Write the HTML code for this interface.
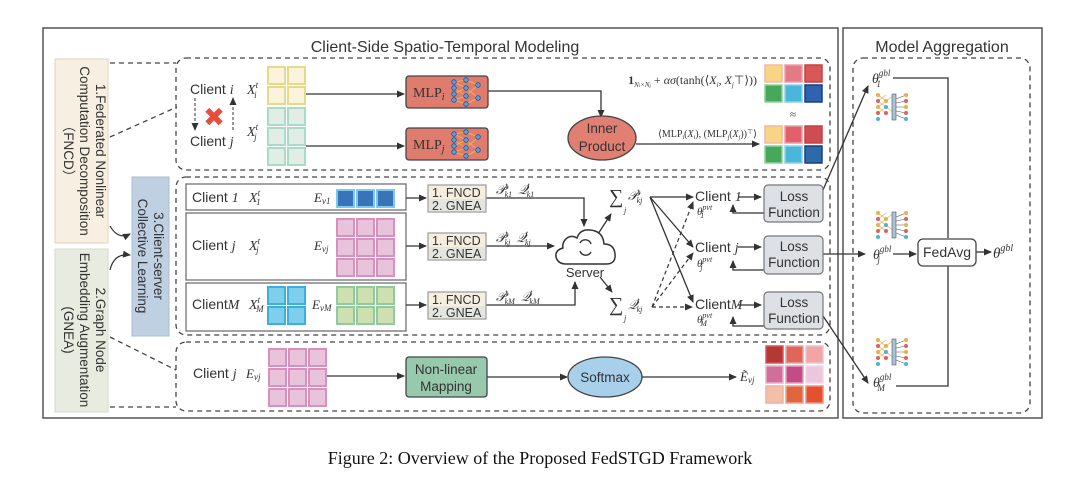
<!DOCTYPE html>
<html><head><meta charset="utf-8"><style>
html,body{margin:0;padding:0;background:#fff;}
svg{display:block;}
.s{font-family:"Liberation Sans",sans-serif;fill:#333;}
.m{font-family:"Liberation Serif",serif;font-style:italic;fill:#333;}
.r{font-family:"Liberation Serif",serif;fill:#333;}
</style></head><body>
<svg width="1080" height="490" viewBox="0 0 1080 490" xmlns="http://www.w3.org/2000/svg">
<defs>
<marker id="a" markerWidth="8" markerHeight="8" refX="7" refY="4" orient="auto" markerUnits="userSpaceOnUse"><path d="M0,0.5 L8,4 L0,7.5 z" fill="#333"/></marker>
<g id="nn">
<g stroke="#e8a94a" stroke-width="0.6"><path d="M2,2 L10,8 M2,8 L10,2 M2,14 L10,8 M2,20 L10,14 M2,14 L10,20 M2,8 L10,14 M10,8 L18,2 M10,14 L18,20"/></g>
<circle cx="2" cy="2" r="2" fill="#e8b04a"/><circle cx="2" cy="8" r="2" fill="#e06060"/><circle cx="2" cy="14" r="2" fill="#e8b04a"/><circle cx="2" cy="20" r="2" fill="#e06060"/><circle cx="2" cy="26" r="2" fill="#4bb6c9"/>
<circle cx="10" cy="8" r="2" fill="#e8b04a"/><circle cx="10" cy="14" r="2" fill="#4bb6c9"/><circle cx="10" cy="20" r="2" fill="#e06060"/>
<rect x="16" y="1" width="4" height="26" fill="#a9c2d6" stroke="#556" stroke-width="0.6"/>
<path d="M20,6 L30,2 M20,10 L30,8 M20,14 L30,14 M20,18 L30,20 M20,22 L30,26" stroke="#555" stroke-width="0.6"/>
<circle cx="30" cy="2" r="2" fill="#e8b04a"/><circle cx="30" cy="8" r="2" fill="#e06060"/><circle cx="30" cy="14" r="2" fill="#e8b04a"/><circle cx="30" cy="20" r="2" fill="#e06060"/><circle cx="30" cy="26" r="2" fill="#4bb6c9"/>
</g>
<g id="mlpnn">
<g stroke="#f0c040" stroke-width="0.7"><path d="M0,2 L12,0 M0,2 L12,8 M0,8 L12,16 M0,14 L12,8 M0,20 L12,24 M0,20 L12,16 M12,0 L24,5 M12,8 L24,18 M12,16 L24,5 M12,24 L24,18"/></g>
<g fill="#5aa0e0" stroke="#1e4f8a" stroke-width="0.8">
<circle cx="0" cy="2" r="2.3"/><circle cx="0" cy="8" r="2.3"/><circle cx="0" cy="14" r="2.3"/><circle cx="0" cy="20" r="2.3"/>
<circle cx="12" cy="0" r="2.3"/><circle cx="12" cy="8" r="2.3"/><circle cx="12" cy="16" r="2.3"/><circle cx="12" cy="24" r="2.3"/>
<circle cx="24" cy="5" r="2.3"/><circle cx="24" cy="18" r="2.3"/></g>
</g>
</defs>

<rect x="43" y="28" width="795" height="390" fill="none" stroke="#555" stroke-width="1.5"/>
<rect x="843" y="28" width="199" height="390" fill="none" stroke="#555" stroke-width="1.5"/>
<text x="445" y="52" class="s" font-size="16" text-anchor="middle">Client-Side Spatio-Temporal Modeling</text>
<text x="942" y="52" class="s" font-size="16" text-anchor="middle">Model Aggregation</text>

<g fill="none" stroke="#444" stroke-width="1.3" stroke-dasharray="5,4">
<rect x="176" y="58" width="654" height="112" rx="10"/>
<rect x="176" y="177" width="654" height="158" rx="10"/>
<rect x="176" y="342" width="654" height="69" rx="10"/>
<rect x="853" y="58" width="177" height="355" rx="10"/>
<path d="M110,63 L176,63 M110,137 L177,107 M110,337 L176,370 M110,407 L176,407"/>
</g>

<rect x="55" y="59" width="53" height="184" fill="#f7efe2" stroke="#e3d3bb"/>
<text transform="translate(66,151) rotate(90)" class="s" font-size="13.5" text-anchor="middle"><tspan x="0" y="-30">1.Federated Nonlinear</tspan><tspan x="0" y="-14">Computation Decomposition</tspan><tspan x="0" y="2">（FNCD）</tspan></text>
<rect x="55" y="249" width="53" height="163" fill="#e8ebe0" stroke="#d7dacd"/>
<text transform="translate(66,330) rotate(90)" class="s" font-size="13.5" text-anchor="middle"><tspan x="0" y="-30">2.Graph Node</tspan><tspan x="0" y="-14">Embedding Augmentation</tspan><tspan x="0" y="2">(GNEA)</tspan></text>
<rect x="132" y="177" width="37" height="159" fill="#bfd0e3" stroke="#a9bccf"/>
<text transform="translate(150,256) rotate(90)" class="s" font-size="13.5" text-anchor="middle"><tspan x="0" y="-4">3.Client-server</tspan><tspan x="0" y="12">Collective Learning</tspan></text>
<path d="M110,226 Q118,240 130,234" fill="none" stroke="#333" stroke-width="1.2" marker-end="url(#a)"/>
<path d="M110,270 Q114,253 130,255" fill="none" stroke="#333" stroke-width="1.2" marker-end="url(#a)"/>

<text x="190" y="94" class="s" font-size="14">Client <tspan class="m">i</tspan></text>
<text x="190" y="146" class="s" font-size="14">Client <tspan class="m">j</tspan></text>
<path d="M233,130 L233,98" stroke="#333" stroke-width="1" stroke-dasharray="3,2" fill="none" marker-end="url(#a)"/>
<path d="M195,98 L195,130" stroke="#333" stroke-width="1" stroke-dasharray="3,2" marker-end="url(#a)"/>
<text x="214" y="126" font-size="26" fill="#e84c3d" font-family="DejaVu Sans,sans-serif" font-weight="bold" text-anchor="middle">✖</text>
<text x="247" y="94" class="m" font-size="14">X<tspan font-size="9" dy="-6">t</tspan><tspan font-size="9" dx="-4" dy="10">i</tspan></text>
<text x="247" y="136" class="m" font-size="14">X<tspan font-size="9" dy="-6">t</tspan><tspan font-size="9" dx="-4" dy="10">j</tspan></text>
<g fill="#fbf3dc" stroke="#e5d98a" stroke-width="2">
<rect x="268" y="67" width="17" height="17"/><rect x="288" y="67" width="17" height="17"/>
<rect x="268" y="87" width="17" height="17"/><rect x="288" y="87" width="17" height="17"/>
<rect x="268" y="190" width="17" height="17"/><rect x="288" y="190" width="17" height="17"/>
</g>
<g fill="#e2eee5" stroke="#a8dcc9" stroke-width="2">
<rect x="268" y="108" width="17" height="17"/><rect x="288" y="108" width="17" height="17"/>
<rect x="268" y="128" width="17" height="17"/><rect x="288" y="128" width="17" height="17"/>
<rect x="268" y="148" width="17" height="17"/><rect x="288" y="148" width="17" height="17"/>
<rect x="268" y="219" width="17" height="17"/><rect x="288" y="219" width="17" height="17"/>
<rect x="268" y="239" width="17" height="17"/><rect x="288" y="239" width="17" height="17"/>
<rect x="268" y="259" width="17" height="17"/><rect x="288" y="259" width="17" height="17"/>
</g>
<g stroke="#333" stroke-width="1.3" fill="none" marker-end="url(#a)">
<path d="M306,94 L404,94"/><path d="M306,146 L404,146"/>
<path d="M488,91 L601,91 L601,117"/><path d="M636,144 L759,144"/>
</g>
<rect x="406" y="76" width="82" height="32" rx="3" fill="#e07c6e" stroke="#444" stroke-width="1.3"/>
<rect x="406" y="128" width="82" height="32" rx="3" fill="#e07c6e" stroke="#444" stroke-width="1.3"/>
<text x="413" y="97" class="r" font-size="14">MLP<tspan class="m" font-size="10" dy="3">i</tspan></text>
<text x="413" y="149" class="r" font-size="14">MLP<tspan class="m" font-size="10" dy="3">j</tspan></text>
<use href="#mlpnn" x="454" y="80"/><use href="#mlpnn" x="454" y="132"/>
<ellipse cx="602" cy="138" rx="34" ry="22" fill="#e07f72" stroke="#444" stroke-width="1.3"/>
<text x="602" y="133" class="s" font-size="13.5" text-anchor="middle">Inner</text>
<text x="602" y="151" class="s" font-size="13.5" text-anchor="middle">Product</text>
<text x="757" y="84" class="r" font-size="12" text-anchor="end"><tspan font-weight="bold">1</tspan><tspan font-size="7" class="m" dy="3">N<tspan font-size="5">i</tspan>×N<tspan font-size="5">j</tspan></tspan><tspan dy="-3"> + </tspan><tspan class="m">ασ</tspan>(tanh(⟨<tspan class="m">X<tspan font-size="7" dy="3">i</tspan></tspan><tspan dy="-3">, </tspan><tspan class="m">X<tspan font-size="7" dy="3">j</tspan></tspan><tspan dy="-3">⊤⟩))</tspan></text>
<text x="757" y="137" class="r" font-size="10" text-anchor="end">⟨MLP<tspan font-size="6" dy="2">i</tspan><tspan dy="-2">(</tspan><tspan class="m">X<tspan font-size="6" dy="2">i</tspan></tspan><tspan dy="-2">), (MLP</tspan><tspan font-size="6" dy="2">j</tspan><tspan dy="-2">(</tspan><tspan class="m">X<tspan font-size="6" dy="2">j</tspan></tspan><tspan dy="-2">))</tspan><tspan font-size="7" dy="-3">⊤</tspan><tspan dy="3">⟩</tspan></text>
<g stroke-width="1.5">
<rect x="765" y="65" width="17" height="17" fill="#f8d584" stroke="#f2b8a0"/><rect x="785" y="65" width="17" height="17" fill="#e37a87" stroke="#e8a0a8"/><rect x="805" y="65" width="17" height="17" fill="#d8585a" stroke="#c84040"/>
<rect x="765" y="85" width="17" height="17" fill="#47a85a" stroke="#8fd0a0"/><rect x="785" y="85" width="17" height="17" fill="#4bb6d9" stroke="#90d0e8"/><rect x="805" y="85" width="17" height="17" fill="#2f63b0" stroke="#1a3f80"/>
<rect x="765" y="126" width="17" height="17" fill="#f8d584" stroke="#f2b8a0"/><rect x="785" y="126" width="17" height="17" fill="#e35f6a" stroke="#e8a0a8"/><rect x="805" y="126" width="17" height="17" fill="#d04c55" stroke="#c84040"/>
<rect x="765" y="146" width="17" height="17" fill="#47a85a" stroke="#8fd0a0"/><rect x="785" y="146" width="17" height="17" fill="#4bb6d9" stroke="#90d0e8"/><rect x="805" y="146" width="17" height="17" fill="#2d6aa8" stroke="#1a3f80"/>
</g>
<text x="793" y="118" class="r" font-size="11" text-anchor="middle">≈</text>

<g fill="#fff" stroke="#666" stroke-width="1.2">
<rect x="186" y="184" width="220" height="26"/>
<rect x="186" y="213" width="220" height="67"/>
<rect x="186" y="283" width="220" height="48"/>
</g>
<text x="192" y="202" class="s" font-size="14">Client <tspan class="m">1</tspan></text>
<text x="192" y="250" class="s" font-size="14">Client <tspan class="m">j</tspan></text>
<text x="192" y="309" class="s" font-size="14">Client<tspan class="m">M</tspan></text>
<text x="249" y="202" class="m" font-size="14">X<tspan font-size="9" dy="-6">t</tspan><tspan font-size="9" dx="-4" dy="9">1</tspan></text>
<text x="249" y="250" class="m" font-size="14">X<tspan font-size="9" dy="-6">t</tspan><tspan font-size="9" dx="-4" dy="9">j</tspan></text>
<text x="249" y="309" class="m" font-size="14">X<tspan font-size="9" dy="-6">t</tspan><tspan font-size="9" dx="-4" dy="9">M</tspan></text>
<text x="314" y="202" class="m" font-size="13">E<tspan font-size="9" dy="2">v1</tspan></text>
<text x="314" y="250" class="m" font-size="13">E<tspan font-size="9" dy="2">vj</tspan></text>
<text x="312" y="309" class="m" font-size="13">E<tspan font-size="9" dy="2">vM</tspan></text>
<g fill="#3a74b8" stroke="#7ec8ee" stroke-width="2">
<rect x="337" y="190" width="17" height="17"/><rect x="357" y="190" width="17" height="17"/><rect x="377" y="190" width="17" height="17"/>
</g>
<g fill="#e8c4dc" stroke="#db8fbd" stroke-width="2">
<rect x="337" y="219" width="17" height="17"/><rect x="357" y="219" width="17" height="17"/><rect x="377" y="219" width="17" height="17"/>
<rect x="337" y="239" width="17" height="17"/><rect x="357" y="239" width="17" height="17"/><rect x="377" y="239" width="17" height="17"/>
<rect x="337" y="259" width="17" height="17"/><rect x="357" y="259" width="17" height="17"/><rect x="377" y="259" width="17" height="17"/>
<rect x="269" y="349" width="17" height="17"/><rect x="289" y="349" width="17" height="17"/><rect x="309" y="349" width="17" height="17"/>
<rect x="269" y="369" width="17" height="17"/><rect x="289" y="369" width="17" height="17"/><rect x="309" y="369" width="17" height="17"/>
<rect x="269" y="389" width="17" height="17"/><rect x="289" y="389" width="17" height="17"/><rect x="309" y="389" width="17" height="17"/>
</g>
<g fill="#7fcfea" stroke="#3ab0e0" stroke-width="2">
<rect x="268" y="287" width="17" height="17"/><rect x="288" y="287" width="17" height="17"/>
<rect x="268" y="307" width="17" height="17"/><rect x="288" y="307" width="17" height="17"/>
</g>
<g fill="#cfe0b0" stroke="#8fcaa0" stroke-width="2">
<rect x="337" y="287" width="17" height="17"/><rect x="357" y="287" width="17" height="17"/><rect x="377" y="287" width="17" height="17"/>
<rect x="337" y="307" width="17" height="17"/><rect x="357" y="307" width="17" height="17"/><rect x="377" y="307" width="17" height="17"/>
</g>
<g stroke="#333" stroke-width="1.3" fill="none" marker-end="url(#a)">
<path d="M406,198 L426,198"/><path d="M406,246 L426,246"/><path d="M406,305 L426,305"/>
<path d="M486,198 L584,198 L584,226"/><path d="M486,246 L554,246"/><path d="M486,305 L575,305 L575,282"/>
<path d="M598,234 L611,214"/><path d="M600,277 L612,292"/>
<path d="M650,197 L693,197"/><path d="M650,197 L693,247"/><path d="M650,197 L693,302"/>
<path d="M738,197 L761,197"/><path d="M738,247 L761,247"/><path d="M738,305 L761,305"/>
<path d="M764,213 L733,213 L733,205"/><path d="M764,270 L733,270 L733,261"/><path d="M764,326 L733,326 L733,317"/>
<path d="M823,190 L868,86"/><path d="M823,254 L865,254"/><path d="M823,316 L868,383"/>
<path d="M893,254 L916,254"/><path d="M976,252 L991,252"/>
</g>
<g stroke="#333" stroke-width="1.2" fill="none" stroke-dasharray="4,3" marker-end="url(#a)">
<path d="M652,307 L693,202"/><path d="M652,307 L693,253"/><path d="M652,307 L692,307"/>
</g>
<g fill="#f6efe0" stroke="#999" stroke-width="1.2">
<rect x="428" y="185" width="58" height="27"/><rect x="428" y="233" width="58" height="27"/><rect x="428" y="292" width="58" height="27"/>
</g>
<g fill="#e2e6df"><rect x="429" y="199" width="56" height="12"/><rect x="429" y="247" width="56" height="12"/><rect x="429" y="306" width="56" height="12"/></g>
<g class="s" font-size="12.5">
<text x="432" y="197">1. FNCD</text><text x="432" y="210">2. GNEA</text>
<text x="432" y="245">1. FNCD</text><text x="432" y="258">2. GNEA</text>
<text x="432" y="304">1. FNCD</text><text x="432" y="317">2. GNEA</text>
</g>
<g class="m" font-size="13">
<text x="496" y="194">𝒫<tspan font-size="8" dy="-6">t</tspan><tspan font-size="8" dx="-3" dy="9">k1</tspan><tspan dx="6" dy="-3">𝒬</tspan><tspan font-size="8" dy="-6">t</tspan><tspan font-size="8" dx="-3" dy="9">k1</tspan></text>
<text x="496" y="242">𝒫<tspan font-size="8" dy="-6">t</tspan><tspan font-size="8" dx="-3" dy="9">kj</tspan><tspan dx="6" dy="-3">𝒬</tspan><tspan font-size="8" dy="-6">t</tspan><tspan font-size="8" dx="-3" dy="9">kj</tspan></text>
<text x="496" y="301">𝒫<tspan font-size="8" dy="-6">t</tspan><tspan font-size="8" dx="-3" dy="9">kM</tspan><tspan dx="6" dy="-3">𝒬</tspan><tspan font-size="8" dy="-6">t</tspan><tspan font-size="8" dx="-3" dy="9">kM</tspan></text>
<text x="609" y="203" class="r" font-size="20">∑</text><text x="624" y="213" font-size="8">j</text>
<text x="628" y="200">𝒫<tspan font-size="8" dy="-6">t</tspan><tspan font-size="8" dx="-3" dy="9">kj</tspan></text>
<text x="609" y="311" class="r" font-size="20">∑</text><text x="624" y="321" font-size="8">j</text>
<text x="628" y="309">𝒬<tspan font-size="8" dy="-6">t</tspan><tspan font-size="8" dx="-3" dy="9">kj</tspan></text>
</g>
<path d="M566,264 L606,264 Q616,264 615,254 Q614,244 604,244 Q603,231 590,230 Q580,229 577,238 Q570,234 565,240 Q562,244 563,248 Q555,250 556,257 Q558,264 566,264 Z" fill="#fff" stroke="#333" stroke-width="1.5"/>
<path d="M580,243 A6,6 0 0 1 591,244 M591,252 A6,6 0 0 1 580,251" fill="none" stroke="#333" stroke-width="1.4"/>
<text x="585" y="277" class="s" font-size="13" text-anchor="middle">Server</text>

<text x="695" y="201" class="s" font-size="14">Client <tspan class="m">1</tspan></text>
<text x="695" y="252" class="s" font-size="14">Client <tspan class="m">j</tspan></text>
<text x="695" y="309" class="s" font-size="14">Client<tspan class="m">M</tspan></text>
<g class="m" font-size="11">
<text x="697" y="215">θ<tspan font-size="8" dy="-5">pvt</tspan><tspan font-size="8" dx="-12" dy="8">1</tspan></text>
<text x="697" y="267">θ<tspan font-size="8" dy="-5">pvt</tspan><tspan font-size="8" dx="-12" dy="8">j</tspan></text>
<text x="697" y="323">θ<tspan font-size="8" dy="-5">pvt</tspan><tspan font-size="8" dx="-12" dy="8">M</tspan></text>
</g>
<g fill="#dde0e4" stroke="#777" stroke-width="1.2">
<rect x="764" y="185" width="59" height="37" rx="4"/><rect x="764" y="236" width="59" height="38" rx="4"/><rect x="764" y="292" width="59" height="37" rx="4"/>
</g>
<g class="s" font-size="13.5" text-anchor="middle">
<text x="794" y="201">Loss</text><text x="794" y="217">Function</text>
<text x="794" y="251">Loss</text><text x="794" y="267">Function</text>
<text x="794" y="307">Loss</text><text x="794" y="323">Function</text>
</g>

<path d="M893,78 L948,78 L948,238 M948,266 L948,386 L896,386" fill="none" stroke="#333" stroke-width="1.3"/>
<g class="m" font-size="14">
<text x="872" y="83">θ<tspan font-size="9" dy="-7">gbl</tspan><tspan font-size="9" dx="-14" dy="11">1</tspan></text>
<text x="873" y="259">θ<tspan font-size="9" dy="-7">gbl</tspan><tspan font-size="9" dx="-14" dy="11">j</tspan></text>
<text x="873" y="387">θ<tspan font-size="9" dy="-7">gbl</tspan><tspan font-size="9" dx="-14" dy="11">M</tspan></text>
<text x="993" y="258" font-size="15">θ<tspan font-size="10" dy="-7">gbl</tspan></text>
</g>
<use href="#nn" x="876" y="93"/><use href="#nn" x="876" y="211"/><use href="#nn" x="876" y="338"/>
<rect x="918" y="239" width="58" height="27" rx="5" fill="#fff" stroke="#444" stroke-width="1.3"/>
<text x="947" y="257" class="s" font-size="14" text-anchor="middle">FedAvg</text>

<text x="193" y="378" class="s" font-size="14">Client <tspan class="m">j</tspan></text>
<text x="246" y="378" class="m" font-size="13">E<tspan font-size="9" dy="2">vj</tspan></text>
<g stroke="#333" stroke-width="1.3" fill="none" marker-end="url(#a)">
<path d="M327,376 L404,376"/><path d="M487,377 L567,377"/><path d="M642,377 L736,377"/>
</g>
<rect x="406" y="357" width="81" height="40" rx="3" fill="#97c9ac" stroke="#444" stroke-width="1.3"/>
<text x="446" y="374" class="s" font-size="13.5" text-anchor="middle">Non-linear</text>
<text x="446" y="391" class="s" font-size="13.5" text-anchor="middle">Mapping</text>
<ellipse cx="605" cy="377" rx="37" ry="20" fill="#a8d0ea" stroke="#444" stroke-width="1.3"/>
<text x="605" y="382" class="s" font-size="13.5" text-anchor="middle">Softmax</text>
<text x="740" y="381" class="m" font-size="13">Ẽ<tspan font-size="9" dy="2">vj</tspan></text>
<g stroke-width="1.5">
<rect x="766" y="346" width="17" height="17" fill="#b33a33" stroke="#e05060"/><rect x="786" y="346" width="17" height="17" fill="#e0665a" stroke="#f0a0a0"/><rect x="806" y="346" width="17" height="17" fill="#f2a5a5" stroke="#f5c0c8"/>
<rect x="766" y="366" width="17" height="17" fill="#d0709a" stroke="#eab0c8"/><rect x="786" y="366" width="17" height="17" fill="#c34c86" stroke="#e8a0c0"/><rect x="806" y="366" width="17" height="17" fill="#eac7dc" stroke="#f0d8e6"/>
<rect x="766" y="386" width="17" height="17" fill="#f2c0a8" stroke="#f0b0a0"/><rect x="786" y="386" width="17" height="17" fill="#e0663f" stroke="#f0a090"/><rect x="806" y="386" width="17" height="17" fill="#e5502f" stroke="#f09080"/>
</g>

<text x="540" y="464" font-family="Liberation Serif,serif" font-size="18" fill="#111" text-anchor="middle">Figure 2: Overview of the Proposed FedSTGD Framework</text>
</svg>
</body></html>
